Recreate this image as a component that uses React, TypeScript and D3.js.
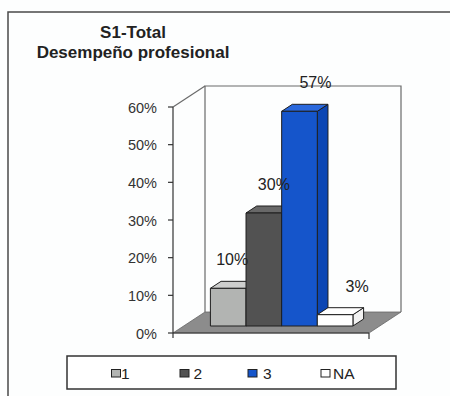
import React from "react";
import * as d3 from "d3";

// Chart data
const categories = ["1", "2", "3", "NA"];
const values = [10, 30, 57, 3];
const valueLabels = ["10%", "30%", "57%", "3%"];
const yTicks = [0, 10, 20, 30, 40, 50, 60];
const titleLines = ["S1-Total", "Desempeño profesional"];

// Face colours per series: front, top, side
const frontColors = ["#b2b4b2", "#525252", "#1555cb", "#ffffff"];
const topColors = ["#cdcecd", "#686868", "#2a68dc", "#ffffff"];
const sideColors = ["#a0a2a0", "#464646", "#0c46b4", "#f2f2f2"];

const W = 450;
const H = 396;
const FONT = "'Liberation Sans', Arial, Helvetica, sans-serif";

// Plot geometry (front plane + depth projection)
const plotLeft = 173;
const plotRight = 369;
const plotBottom = 333;
const plotTop = 107;
const depthX = 32;
const depthY = -21;
const zFront = 1 / 3;
const zBack = 2 / 3;

// Legend layout
const legendSwatchX = [111.5, 180, 248, 321];
const legendTextX = [121, 193.5, 263, 333];

export default function App() {
  const y = d3.scaleLinear().domain([0, 60]).range([plotBottom, plotTop]);
  const x = d3
    .scaleBand<string>()
    .domain(categories)
    .range([plotLeft, plotRight])
    .paddingInner(0)
    .paddingOuter(0.75);
  const bw = x.bandwidth();

  const fx = zFront * depthX;
  const fy = zFront * depthY;
  const bx = zBack * depthX;
  const by = zBack * depthY;

  // data labels sit above the bars, drifting right along the row
  const labelX = d3
    .scalePoint<string>()
    .domain(categories)
    .range([x(categories[0])! + bw / 2 + fx + 4, x(categories[3])! + bw / 2 + fx + 22]);

  const pts = (arr: [number, number][]) => arr.map((p) => p.join(",")).join(" ");

  const y0 = y(0);
  const floor: [number, number][] = [
    [plotLeft, y0],
    [plotRight, y0],
    [plotRight + depthX, y0 + depthY],
    [plotLeft + depthX, y0 + depthY],
  ];

  return (
    <div style={{ position: "absolute", left: 0, top: 0 }}>
      <svg width={W} height={H} style={{ display: "block", background: "#fdfefe" }}>
        {/* outer frame */}
        <rect x={8} y={12} width={W + 20} height={H + 20} fill="none" stroke="#4a4a4a" strokeWidth={1.5} />

        {/* title */}
        <text x={133} y={38} textAnchor="middle" fontFamily={FONT} fontSize={17} fontWeight="bold" fill="#222">
          {titleLines[0]}
        </text>
        <text x={133} y={58} textAnchor="middle" fontFamily={FONT} fontSize={17} fontWeight="bold" fill="#222">
          {titleLines[1]}
        </text>

        {/* floor */}
        <polygon points={pts(floor)} fill="#8c8c8c" stroke="#666" strokeWidth={0.8} />

        {/* back wall outline */}
        <polyline
          points={pts([
            [plotLeft + depthX, y(0) + depthY],
            [plotLeft + depthX, y(60) + depthY],
            [plotRight + depthX, y(60) + depthY],
            [plotRight + depthX, y(0) + depthY],
          ])}
          fill="none"
          stroke="#6a6a6a"
          strokeWidth={1.2}
        />
        {/* left wall top edge */}
        <line
          x1={plotLeft}
          y1={y(60)}
          x2={plotLeft + depthX}
          y2={y(60) + depthY}
          stroke="#6a6a6a"
          strokeWidth={1.2}
        />

        {/* bars */}
        {categories.map((c, i) => {
          const x0 = x(c)! + fx;
          const x1 = x0 + bw;
          const yb = y(0) + fy;
          const yt = y(values[i]) + fy;
          const dx = bx - fx;
          const dy = by - fy;
          return (
            <g key={c} stroke="#1e1e1e" strokeWidth={1} strokeLinejoin="round">
              <polygon
                points={pts([
                  [x1, yb],
                  [x1 + dx, yb + dy],
                  [x1 + dx, yt + dy],
                  [x1, yt],
                ])}
                fill={sideColors[i]}
              />
              <polygon
                points={pts([
                  [x0, yt],
                  [x1, yt],
                  [x1 + dx, yt + dy],
                  [x0 + dx, yt + dy],
                ])}
                fill={topColors[i]}
              />
              <rect x={x0} y={yt} width={bw} height={yb - yt} fill={frontColors[i]} />
            </g>
          );
        })}

        {/* value labels */}
        {categories.map((c, i) => (
          <text
            key={c}
            x={labelX(c)}
            y={y(values[i]) + by - 16}
            textAnchor="middle"
            fontFamily={FONT}
            fontSize={16}
            fill="#222"
          >
            {valueLabels[i]}
          </text>
        ))}

        {/* value axis */}
        <line x1={plotLeft} y1={y(0)} x2={plotLeft} y2={y(60)} stroke="#333" strokeWidth={1.2} />
        {yTicks.map((t) => (
          <g key={t}>
            <line x1={plotLeft - 5} y1={y(t)} x2={plotLeft} y2={y(t)} stroke="#333" strokeWidth={1.2} />
            <text
              x={plotLeft - 16}
              y={y(t) + 5.5}
              textAnchor="end"
              fontFamily={FONT}
              fontSize={14.5}
              fill="#333"
            >
              {t}%
            </text>
          </g>
        ))}

        {/* category axis */}
        <line x1={plotLeft} y1={y(0)} x2={plotRight} y2={y(0)} stroke="#333" strokeWidth={1.2} />
        <line x1={plotLeft} y1={y(0)} x2={plotLeft} y2={y(0) + 5} stroke="#333" strokeWidth={1.2} />
        <line x1={plotRight} y1={y(0)} x2={plotRight} y2={y(0) + 6} stroke="#333" strokeWidth={1.2} />

        {/* legend */}
        <rect x={67} y={356} width={329} height={33} fill="#ffffff" stroke="#333" strokeWidth={1.5} />
        {categories.map((c, i) => (
          <g key={c}>
            <rect
              x={legendSwatchX[i]}
              y={369.5}
              width={9}
              height={7.5}
              fill={frontColors[i]}
              stroke="#222"
              strokeWidth={1}
            />
            <text x={legendTextX[i]} y={379} fontFamily={FONT} fontSize={15.5} fill="#222">
              {c}
            </text>
          </g>
        ))}
      </svg>
    </div>
  );
}
